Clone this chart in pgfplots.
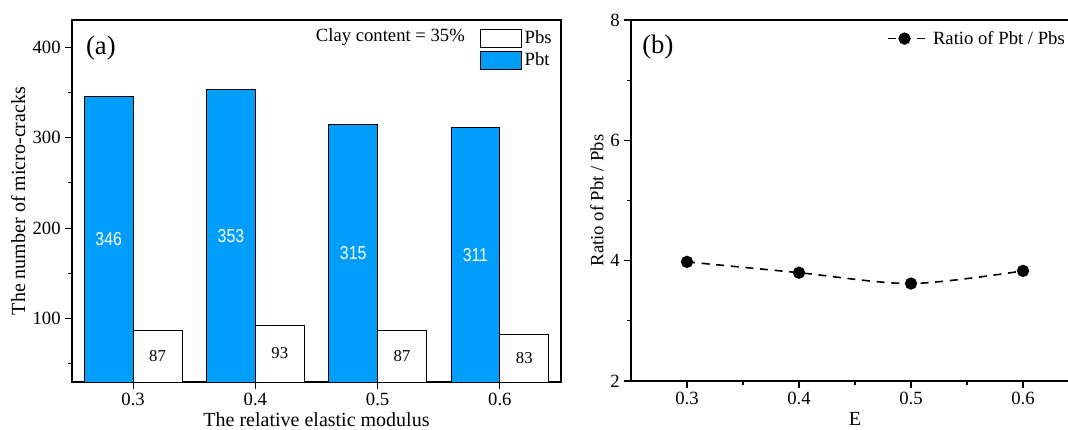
\documentclass[border=0pt]{standalone}
\usepackage{pgfplots}
\pgfplotsset{compat=1.18}
\usepackage{fontspec}
\setmainfont{Liberation Serif}
\newfontfamily\narrow[FakeStretch=0.85]{Liberation Sans}
\definecolor{pbt}{RGB}{0,158,250}
\pgfplotsset{
  boxleg/.style={legend image code/.code={\draw[##1] (0pt,-6.75pt) rectangle (31pt,6.75pt);}},
  lineleg/.style={legend image code/.code={\draw[##1,mark repeat=2,mark phase=2] plot coordinates {(0cm,0cm) (0.44cm,0cm) (0.88cm,0cm)}; \path (0cm,0cm) -- (1.1cm,0cm);}},
  common/.style={
    scale only axis,
    axis line style={line width=1pt},
    tick style={line width=0.8pt, black},
    tick align=outside,
    major tick length=5pt,
    minor tick length=3pt,
    xtick pos=bottom, ytick pos=left,
    /pgf/number format/assume math mode=true,
    tick label style={font=\fontsize{14}{16}\selectfont},
    label style={font=\fontsize{15}{17}\selectfont},
  }
}

\begin{document}
\begin{tikzpicture}
% ---------------- (a) ----------------
\begin{axis}[common,
  at={(54pt,35.25pt)}, anchor=south west,
  width=366.75pt, height=271.5pt,
  xmin=0.25, xmax=0.65, ymin=30, ymax=430,
  xtick={0.3,0.4,0.5,0.6}, xticklabels={0.3,0.4,0.5,0.6},
  ytick={100,200,300,400}, minor ytick={50,150,250,350},
  xlabel={The relative elastic modulus},
  ylabel={The number of micro-cracks},
  xlabel style={at={(axis description cs:0.5,-0.103)}, anchor=center},
  ylabel style={at={(axis description cs:-0.11,0.5)}, anchor=center},
  legend style={draw=none, fill=none, at={(0.995,0.985)}, anchor=north east,
    font=\fontsize{14}{16}\selectfont, row sep=1pt, cells={anchor=west}},
  reverse legend,
]
\addplot[ybar, bar width=0.04, bar shift=-0.02, fill=pbt, draw=black, line width=0.6pt,
  boxleg,
  visualization depends on=y \as \rawy,
  nodes near coords,
  every node near coord/.append style={anchor=center, text=white,
    font=\narrow\fontsize{14}{16}\selectfont,
    shift={(axis direction cs:-0.02,{-(\rawy-30)/2})}},
] coordinates {(0.3,346) (0.4,353) (0.5,315) (0.6,311)};
\addlegendentry{Pbt}
\addplot[ybar, bar width=0.04, bar shift=0.02, fill=white, draw=black, line width=0.6pt,
  boxleg,
  visualization depends on=y \as \rawy,
  nodes near coords,
  every node near coord/.append style={anchor=center, text=black,
    font=\fontsize{12.5}{14}\selectfont,
    shift={(axis direction cs:0.02,{-(\rawy-30)/2})}},
] coordinates {(0.3,87) (0.4,93) (0.5,87) (0.6,83)};
\addlegendentry{Pbs}
\node[anchor=east, font=\fontsize{14}{16}\selectfont] at (axis description cs:0.813,0.953) {Clay content = 35\%};
\node[font=\fontsize{20}{24}\selectfont] at (axis description cs:0.059,0.923) {(a)};
\end{axis}
% ---------------- (b) ----------------
\begin{axis}[common,
  at={(473.25pt,36pt)}, anchor=south west,
  width=336pt, height=270.75pt,
  xmin=0.25, xmax=0.65, ymin=2, ymax=8,
  xtick={0.3,0.4,0.5,0.6}, xticklabels={0.3,0.4,0.5,0.6},
  minor xtick={0.35,0.45,0.55,0.65},
  ytick={2,4,6,8}, minor ytick={3,5,7},
  xlabel={E},
  ylabel={Ratio of Pbt / Pbs},
  xlabel style={at={(axis description cs:0.5,-0.105)}, anchor=center},
  ylabel style={at={(axis description cs:-0.076,0.5)}, anchor=center, font=\fontsize{14}{16}\selectfont},
  legend style={draw=none, fill=none, at={(0.562,0.985)}, anchor=north west,
    font=\fontsize{14}{16}\selectfont, cells={anchor=west}},
]
\addplot[black, dash pattern=on 6pt off 5pt, line width=1.2pt, smooth,
  mark=*, mark size=4pt, mark options={solid}, lineleg,
] coordinates {(0.3,3.98) (0.4,3.80) (0.5,3.62) (0.6,3.83)};
\addlegendentry{Ratio of Pbt / Pbs}
\node[font=\fontsize{20}{24}\selectfont] at (axis description cs:0.06,0.925) {(b)};
\end{axis}
\pgfresetboundingbox
\path[use as bounding box] (0,0) rectangle (801pt,321.75pt);
\end{tikzpicture}
\end{document}
